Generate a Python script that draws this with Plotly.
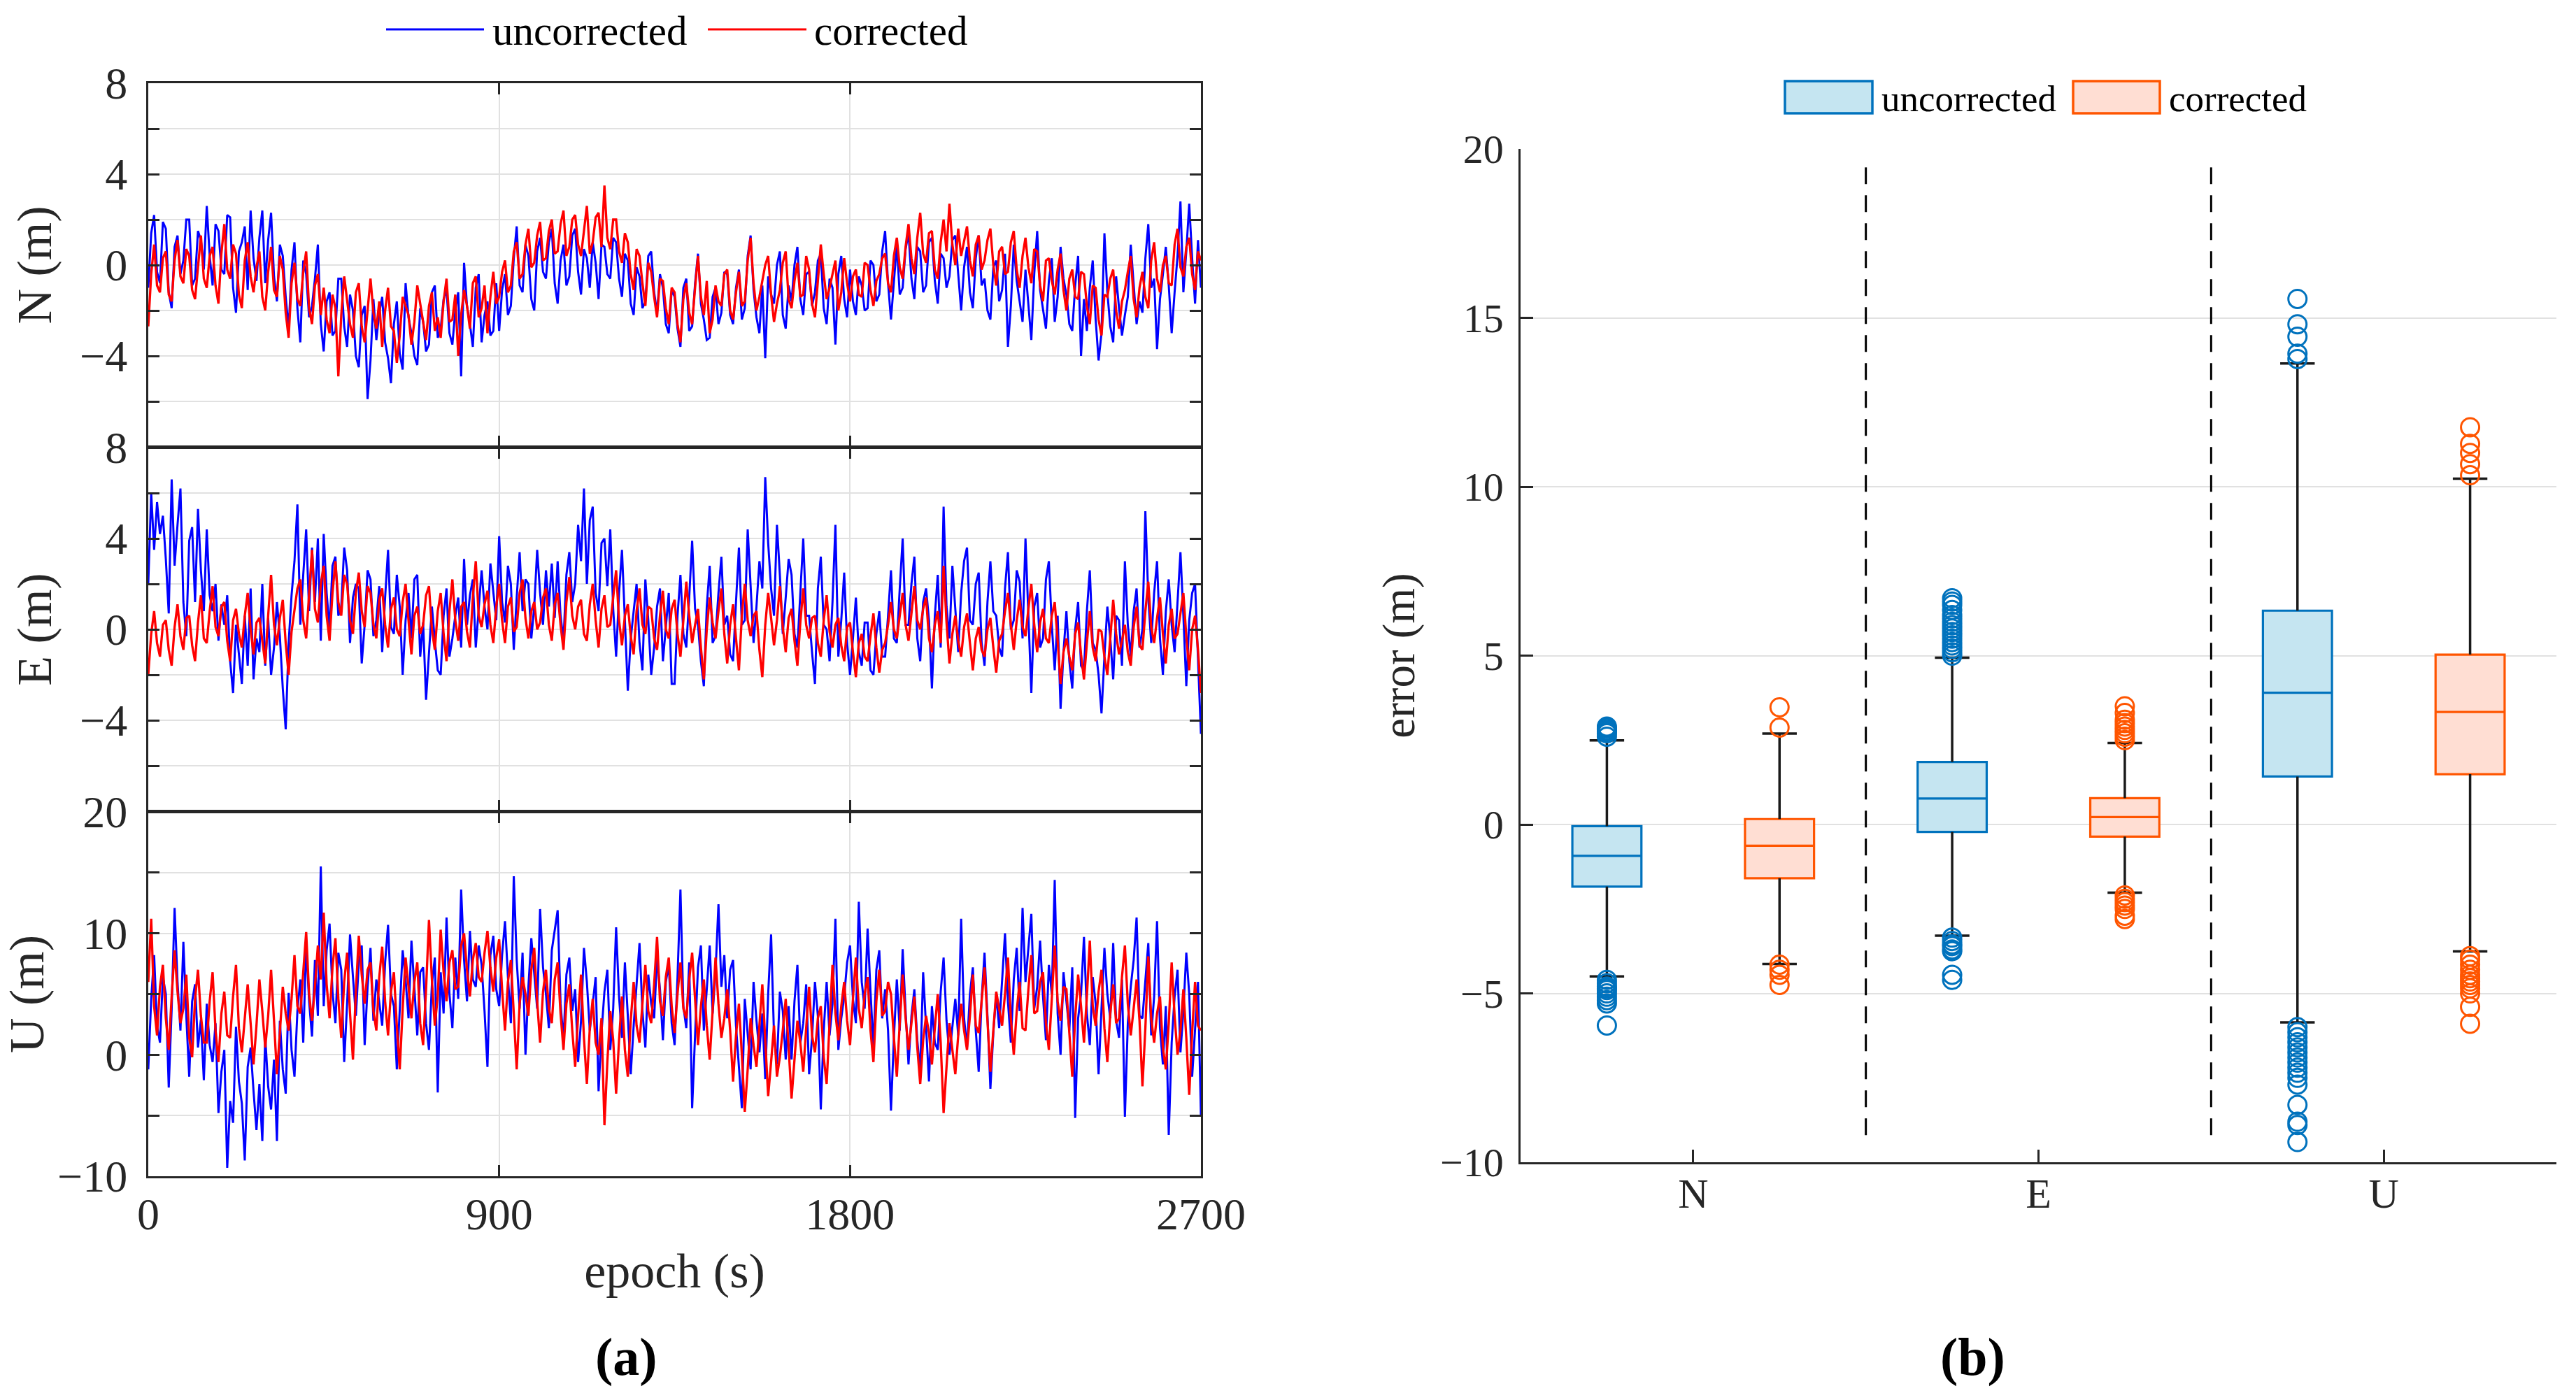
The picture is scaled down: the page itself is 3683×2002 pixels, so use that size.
import plotly.graph_objects as go

W, H = 3683, 2002

# ---------------- data: panel (a) time series, read every 7.5 s over 0-2700 s ----------------
EPOCH_END = 2700

N_uncorrected = [
    -1.0, 1.4, 2.2, -0.3, -0.8, 1.9, 1.6, -1.2, -1.9, 0.8, 1.3, -0.4, 0.2, 2.0, 2.0, -0.9, -0.6, 1.5, 1.1, -0.2,
    2.6, 0.4, -0.9, 1.8, 1.5, -0.2, -0.4, 2.2, 2.1, -1.0, -2.1, 0.6, 1.0, 1.7, -1.1, 2.4, 0.3, -0.7, 1.2, 2.4,
    -0.8, 1.1, 2.3, -0.5, -1.6, 0.9, 0.4, -1.4, -2.8, -0.2, 1.0, -1.9, -3.4, 0.2, -0.4, -2.3, -1.8, -0.6, 0.9, -2.6,
    -3.8, -1.6, -1.2, -3.1, -2.9, -0.6, -0.6, -2.7, -3.6, -1.3, -2.0, -4.0, -4.5, -2.2, -1.8, -5.9, -4.2, -1.5, -3.3, -2.1,
    -1.4, -3.4, -4.1, -5.2, -2.6, -1.6, -3.9, -4.6, -0.8, -2.3, -3.0, -4.0, -4.4, -1.9, -2.5, -3.8, -3.5, -1.2, -0.9, -3.2,
    -2.8, -1.5, -1.1, -3.0, -3.5, -2.0, -1.2, -4.9, 0.1, -1.8, -2.6, -3.6, -1.0, -0.4, -3.4, -2.2, -1.6, -3.1, -2.9, -0.8,
    -2.9, -1.1, -0.4, -2.2, -1.8, 0.3, 1.7, -0.9, -1.2, 0.9, 0.4, -1.5, -2.0, 0.6, 1.2, -0.3, -0.6, 1.0, 1.6, -0.8,
    -1.7, 0.2, 0.9, -0.9, -0.5, 1.3, 1.6, -0.3, -1.3, 0.7, 0.3, -1.0, 1.0, 0.1, -1.5, 0.9, 0.8, -0.4, -0.6, 1.2,
    1.0, -0.6, -1.4, 0.5, 0.2, -1.7, -2.2, -0.1, -0.5, -1.9, -1.6, 0.4, 0.6, -1.2, -2.1, -0.4, -1.0, -2.6, -3.0, -1.1,
    -1.4, -2.8, -3.6, -1.0, -0.6, -2.9, -2.7, -0.8, 0.5, -1.7, -2.4, -3.3, -3.2, -1.4, -1.0, -2.6, -2.1, -0.3, -0.4, -2.2,
    -2.6, -1.0, -0.2, -2.4, -1.9, 0.4, 1.3, -1.1, -2.3, -3.0, -0.9, -4.1, -0.5, -1.3, -1.7, 0.0, 0.6, -2.2, -2.8, -0.9,
    -1.6, 0.0, 0.8, -1.5, -2.2, -0.4, -0.3, -1.8, -1.2, 0.2, 0.5, -1.9, -2.6, -0.6, -1.0, -3.5, -0.4, 0.4, -1.5, -2.3,
    -0.2, -1.6, -2.2, -0.5, -0.9, -2.0, -1.9, 0.2, 0.0, -1.6, -1.3, 0.6, 1.5, -0.8, -2.4, -0.6, 0.9, -1.3, -1.0, 0.7,
    1.4, -0.6, -1.5, 0.8, 0.6, -1.2, -0.9, 1.0, 1.2, -0.7, -1.7, 0.5, 0.3, -1.0, -0.5, 1.1, 1.3, -0.4, -2.0, -0.1,
    0.8, -1.2, -1.9, 0.3, 1.3, -0.9, -0.6, -2.0, -2.4, -0.1, 0.2, -1.6, -1.1, 0.5, -3.6, -1.8, 0.9, -0.7, -1.6, -2.5,
    -0.2, -1.8, -3.3, -0.4, 1.5, -1.1, -1.9, -2.8, -0.7, 0.3, -2.5, -1.4, 0.8, -0.6, -1.3, -2.6, -2.9, -0.9, 0.4, -4.0,
    -1.5, -2.9, -1.0, 0.2, -2.4, -4.2, -3.0, 1.4, -1.2, -2.7, -3.4, -0.5, -1.9, -3.1, -2.2, -1.4, 0.9, -0.8, -2.6, -1.6,
    -2.1, 0.3, 1.8, -1.0, -0.6, -3.7, -1.5, -0.4, 0.8, -0.9, -3.0, -1.2, 0.4, 2.8, -1.2, 0.6, 2.7, 0.3, -1.7, 1.1,
    -1.0,
]
N_corrected = [
    -2.7, -0.4, 0.9, -0.9, -1.2, 0.3, 0.6, -1.3, -1.6, 0.2, 1.1, -0.5, -0.8, 0.7, 0.4, -1.1, -1.5, 0.0, 1.3, -0.6,
    -1.0, 0.4, 0.8, -0.9, -1.7, 0.5, 1.8, -0.2, -0.6, 0.9, 0.5, -1.3, -1.9, 0.2, 1.0, -0.5, -1.2, -0.1, 0.6, -1.4,
    -2.0, -0.3, 0.8, -1.1, -1.4, 0.4, -0.2, -2.1, -3.2, -0.8, 0.1, -1.5, -1.8, -0.3, 0.6, -1.9, -2.6, -0.9, -0.4, -2.2,
    -1.0, -2.4, -3.0, -1.3, -1.9, -4.9, -2.2, -0.5, -1.6, -2.6, -3.2, -1.2, -0.8, -2.7, -3.4, -1.9, -0.6, -2.1, -2.8, -1.6,
    -3.6, -2.0, -1.0, -2.7, -2.9, -4.3, -3.1, -1.4, -1.8, -2.2, -3.5, -2.5, -0.9, -1.7, -2.6, -3.3, -1.8, -1.2, -2.9, -2.3,
    -3.2, -1.6, -0.6, -2.5, -2.4, -1.3, -4.0, -2.2, -1.1, -1.8, -2.8, -0.8, -0.5, -2.3, -1.9, -0.9, -3.0, -1.4, -0.3, -1.7,
    -1.4, -0.3, 0.2, -1.2, -0.9, 0.6, 1.0, -0.6, -0.4, 0.9, 1.6, -0.1, 0.1, 1.3, 1.9, 0.2, 0.3, 1.5, 2.0, 0.5,
    0.6, 1.8, 2.4, 0.4, 0.8, 2.0, 2.2, 0.9, 0.4, 1.6, 2.6, 0.5, 1.0, 2.1, 2.3, 0.8, 3.5, 1.2, 0.7, 2.0,
    2.0, 0.6, 0.1, 1.4, 1.0, -0.4, -1.1, 0.7, 0.4, -0.8, -1.8, 0.1, -0.3, -1.4, -2.3, -0.6, -0.7, -1.9, -2.6, -1.0,
    -1.2, -2.6, -3.4, -1.5, -0.8, -2.1, -2.6, -1.0, 0.4, -1.4, -2.2, -0.7, -3.0, -2.4, -0.9, -1.6, -1.8, -0.4, -0.2, -2.0,
    -2.4, -1.2, -0.3, -1.8, -1.6, 0.2, 1.2, -0.8, -2.0, -1.4, -0.7, 0.0, 0.4, -1.3, -2.5, -1.7, -1.1, 0.1, 0.6, -1.5,
    -1.9, -0.7, 0.1, -1.4, -1.3, 0.4, -0.2, -1.7, -2.3, -0.6, 0.9, -0.4, -1.5, -1.0, -0.4, 0.2, -2.0, -1.2, 0.3, -0.8,
    -1.6, -0.5, -0.2, -1.3, -1.4, 0.1, 0.0, -1.1, -1.8, -0.7, -0.4, 0.3, 0.5, -0.8, -1.2, 0.4, 1.2, -0.1, -0.6, 0.8,
    1.8, 0.3, -0.4, 1.2, 2.3, 0.5, 0.1, 1.4, 1.5, -0.2, -0.6, 1.0, 2.0, 0.6, 2.7, 0.9, 0.0, 1.6, 0.4, 1.1,
    1.7, 0.2, -0.5, 0.9, 1.3, -0.2, 0.2, 1.1, 1.6, 0.0, -0.9, 0.6, 0.8, -0.4, -0.3, 1.0, 1.5, -0.2, -1.0, 0.4,
    1.2, -0.1, -0.8, 0.7, 0.6, -0.9, -1.6, 0.2, 0.3, -0.7, -1.3, -0.2, 0.5, -1.1, -2.0, -0.6, -0.2, -1.4, -1.5, -0.3,
    -0.4, -1.8, -2.6, -0.9, -1.0, -2.4, -3.1, -1.3, -1.4, -0.6, -0.2, -2.0, -2.8, -1.6, -1.1, -0.3, 0.4, -1.5, -2.3, -1.0,
    -0.3, -1.4, -1.9, 0.2, 1.0, -0.6, -1.2, 0.0, 0.4, -0.8, -0.9, 0.9, 1.6, -0.1, -0.5, 0.8, 1.2, -0.4, -1.1, 0.6,
    0.2,
]
E_uncorrected = [
    2.0, 6.0, 3.5, 5.6, 4.2, 5.0, 3.1, 0.7, 6.6, 2.8, 4.6, 6.2, 1.2, -0.3, 3.9, 4.5, 1.2, 5.3, 2.6, 0.8,
    4.4, 1.5, 0.8, 2.0, -0.5, 1.1, 0.2, 1.5, -1.4, -2.8, 0.2, -1.0, -2.4, 0.6, -1.6, 1.8, -2.2, -0.4, -1.0, 2.0,
    -1.6, 0.5, -2.0, -0.8, 1.2, -0.3, -2.6, -4.4, -0.6, 1.5, 3.0, 5.5, 0.2, 2.4, 4.4, 0.8, 3.6, 1.2, 4.0, -0.5,
    4.2, 1.6, 0.0, 2.8, 3.2, 0.6, 1.0, 3.6, 2.6, -0.6, 1.4, 2.0, 1.8, -1.5, 0.2, 2.6, 2.2, -0.3, 0.4, 1.9,
    -1.0, 1.4, 3.5, 0.1, -0.2, 2.4, 1.0, -2.0, 0.4, 1.6, -0.4, 2.2, 2.4, -1.2, 0.3, -3.1, -0.9, 1.0, -0.5, -1.8,
    -2.0, 0.6, 1.8, -1.2, -0.4, 0.6, 1.4, -0.8, 3.1, 0.2, 1.5, 2.2, -0.8, 0.8, 2.6, 1.0, 0.0, 2.9, 1.6, 0.4,
    4.1, 1.2, 0.3, 2.8, 2.0, -0.9, 1.4, 3.4, 0.8, 2.2, 2.0, -0.4, 1.0, 3.5, 1.6, 0.2, 2.6, 1.0, 2.9, 0.5,
    3.0, 0.6, -0.5, 2.4, 3.4, 1.2, 2.0, 4.6, 3.0, 6.2, 2.0, 4.8, 5.4, 1.6, 0.8, 3.8, 4.0, 1.9, 4.4, 0.9,
    -1.2, 1.6, 3.5, 0.2, -2.7, -0.4, 0.8, 2.0, -0.6, -1.8, 2.2, 0.4, -2.0, -0.8, 1.0, 1.8, -1.4, 0.0, 1.6, -2.4,
    -2.4, 0.6, 2.4, -0.2, -0.8, 1.4, 3.9, 0.9, 0.2, -1.4, -2.5, 1.0, 2.8, -0.6, -0.3, 1.6, 3.2, 0.2, 0.6, -1.1,
    -1.4, 1.2, 3.6, 0.2, 0.4, 4.4, 2.0, -0.6, 1.0, 3.0, 1.8, 6.7, 3.8, 1.8, 0.6, 4.6, 2.4, -0.2, 1.4, 3.1,
    2.4, -0.2, -0.8, 1.6, 4.0, 0.6, 0.6, -1.0, -2.4, 1.8, 3.2, 0.2, 0.0, -1.4, 1.2, 4.6, -1.2, 0.4, 2.5, -0.6,
    -2.0, -0.4, 1.4, -1.0, -1.6, 0.3, 0.3, -1.8, -2.0, -0.2, 0.8, -1.2, -1.2, 0.6, 2.6, -0.4, -0.6, 1.8, 4.0, 0.2,
    0.2, 2.0, 3.2, -0.4, -1.4, 1.2, 1.8, 0.4, -2.6, 0.6, 2.4, -0.8, 5.4, 1.0, -0.4, 2.8, 0.9, -1.0, 1.6, 3.0,
    3.6, 0.4, 0.2, 2.0, 2.5, -0.6, -1.6, 1.2, 3.0, 0.8, 0.6, -0.8, -1.2, 1.8, 3.4, 0.0, 0.4, 2.6, 2.1, -0.4,
    4.0, 0.8, -2.8, 1.0, 1.6, -0.8, -0.4, 2.2, 3.0, 0.2, -1.8, 0.6, -3.5, -1.0, 0.8, -1.4, -2.6, 0.0, 1.2, -1.6,
    -1.8, 0.8, 2.6, -0.6, -0.9, -2.0, -3.7, -1.2, 1.0, -0.4, -2.2, 0.6, 0.4, -1.6, 3.0, 0.2, -1.2, 0.8, 1.8, -0.8,
    0.0, 5.2, 1.4, -0.6, 1.6, 3.0, -0.4, -2.0, 0.8, 2.2, 0.2, -1.0, 1.2, 3.4, 0.6, -2.5, 0.4, 1.6, 2.0, -1.4,
    -4.6,
]
E_corrected = [
    -2.0, -0.2, 0.8, -0.6, -1.2, 0.2, 0.4, -0.9, -1.6, 0.1, 1.1, -0.3, -0.9, 0.5, 0.6, -0.7, -1.4, 0.3, 1.5, -0.4,
    -0.6, 0.8, 1.9, 0.1, -0.3, 1.0, 1.2, -0.5, -1.4, 0.4, 0.9, -0.2, -0.8, 0.6, 1.6, 0.0, -1.1, 0.3, 0.5, -0.6,
    -1.5, 0.6, 2.4, 0.2, -0.7, 0.5, 1.3, -0.6, -2.0, -0.1, 0.8, 1.8, 2.2, 0.4, -0.4, 1.4, 3.5, 0.9, 0.3, 2.0,
    2.8, 0.6, -0.5, 1.6, 3.0, 1.2, 0.6, 2.4, 2.0, 0.4, -0.2, 1.6, 2.5, 0.8, 0.1, 1.9, 1.6, 0.2, -0.4, 1.3,
    1.8, 0.2, -0.8, 0.9, 1.4, 0.0, -0.3, 1.2, 2.0, 0.4, -1.1, 0.6, 1.0, -0.2, 0.2, 1.5, 1.9, 0.0, -0.9, 0.8,
    1.6, -0.2, -1.4, 0.8, 2.2, 0.4, -0.5, 1.0, 1.2, -0.1, -0.8, 1.4, 3.0, 0.6, 0.1, 1.1, 1.7, 0.2, -0.6, 1.0,
    2.0, 0.4, -0.6, 1.0, 1.4, -0.1, 0.1, 1.6, 2.2, 0.5, -0.4, 0.8, 1.2, 0.0, 0.3, 1.4, 1.8, 0.2, -0.5, 1.1,
    1.6, 0.2, -0.9, 1.2, 2.3, 0.6, 0.0, 1.0, 1.3, -0.2, -0.5, 1.1, 2.0, 0.4, -0.8, 0.9, 1.5, 0.1, 0.2, 1.4,
    2.6, 0.4, -0.7, 0.6, 1.1, -0.3, -1.1, 0.8, 1.8, 0.2, -0.2, 1.0, 0.9, -0.4, -0.9, 0.6, 1.7, 0.0, -0.4, 0.9,
    1.3, -0.2, -1.2, 0.4, 2.1, 0.6, -0.6, 0.2, 0.9, -0.8, -2.2, 0.0, 1.4, 0.3, -0.4, 0.8, 1.8, -0.2, -1.5, 0.2,
    1.1, -0.4, -1.8, 0.6, 2.0, 0.4, -0.3, 0.6, 0.8, -0.9, -2.1, 0.2, 1.6, 0.5, -0.7, 0.4, 1.9, 0.1, -1.0, 0.5,
    0.9, -0.5, -1.6, 0.3, 1.8, 0.2, -0.4, 0.5, 0.6, -0.6, -1.2, 0.4, 1.5, -0.1, -0.8, 0.2, 0.5, -0.7, -1.4, 0.1,
    0.3, -1.0, -2.1, -0.6, -0.2, -1.2, -1.4, -0.3, 0.7, -0.8, -1.9, -0.9, -0.6, 0.2, 1.2, 0.0, -0.4, 0.6, 1.6, 0.2,
    -0.5, 0.7, 1.9, 0.4, 0.0, 0.9, 1.4, -0.4, -1.0, 0.2, 0.8, -0.6, 2.8, 0.3, -1.5, -0.2, 0.6, -0.5, -1.2, 0.1,
    0.7, -0.6, -1.8, -0.4, 0.1, -0.9, -1.2, 0.0, 0.5, -0.8, -1.9, -0.5, -0.2, 0.8, 1.6, 0.2, -0.9, 0.4, 1.3, 0.1,
    -0.3, 0.9, 2.0, 0.2, -1.0, 0.3, 0.9, -0.4, -0.6, 0.6, 1.2, -0.5, -2.4, -1.0, -0.4, -1.2, -1.8, -0.2, 0.3, -1.1,
    -2.2, -0.6, 0.8, -0.8, -1.4, 0.0, -0.1, -1.2, -2.0, -0.4, 1.3, -0.2, -1.1, -0.5, 0.2, -1.0, -1.6, 0.1, 1.0, -0.7,
    -0.9, 0.8, 2.1, 0.1, -0.6, 0.5, 1.4, -0.2, -1.5, 0.2, 0.9, -0.4, -0.2, 0.7, 1.6, -0.3, -1.8, 0.0, 0.6, -0.9,
    -2.8,
]
U_uncorrected = [
    -1.2, 4.6, 8.2, 2.4, 1.0, 6.4, 5.0, -2.7, 3.8, 12.1, 6.0, 2.0, 9.3, 3.2, -1.8, 4.4, 5.8, 0.6, 2.9, -2.1,
    4.2, 0.8, -0.6, 2.6, -4.8, -1.4, 0.4, -9.3, -3.8, -5.6, 2.3, -2.2, -4.0, -8.7, -1.0, 0.6, -3.0, -6.2, -2.4, -7.1,
    1.5, -2.6, -4.5, -0.4, -7.1, 2.8, -1.2, -3.2, 5.1, 0.4, -1.8, 3.6, 6.2, 1.0, 9.1, 4.4, 1.5, 7.8, 3.2, 15.5,
    4.0, 8.6, 10.8, 5.2, 2.6, 8.4, 7.0, -0.6, 4.2, 9.9, 6.4, 3.2, 7.6, 9.0, 0.8, 5.6, 8.8, 2.8, 6.2, 4.4,
    2.4, 7.6, 10.7, 5.0, 4.0, -1.2, 3.8, 8.6, 6.2, 3.0, 9.4, 5.4, 1.6, 6.8, 7.2, 2.6, 0.4, 5.8, 8.0, -3.1,
    6.8, 3.4, 11.3, 5.0, 2.2, 8.0, 4.6, 13.6, 7.8, 4.4, 10.2, 6.2, 5.6, 9.0, 7.4, 3.6, -1.0, 8.2, 9.8, 5.4,
    4.0, 8.2, 11.0, 6.4, 2.6, 14.7, 7.8, 3.8, 8.4, 0.0, 5.6, 9.6, 6.8, 3.8, 12.0, 7.2, 5.0, 2.2, 8.6, 10.4,
    11.9, 4.2, 1.2, 6.6, 8.0, 3.6, 5.4, -0.6, 2.8, 8.8, 6.0, 2.0, 4.4, 6.4, -3.0, 1.8, 5.2, 7.0, 0.4, 3.8,
    10.5, 4.8, 1.4, 7.6, 3.2, -1.6, 2.4, 5.8, 9.2, 3.6, 0.6, 6.6, 4.2, 3.0, 8.0, 5.4, 1.2, 6.0, 7.4, 2.6,
    0.8, 6.4, 13.6, 4.0, 2.2, 7.6, -4.4, 1.6, 7.2, 9.0, 2.0, 5.4, 9.0, 3.4, 6.8, 12.4, 5.6, 8.2, 3.0, 7.0,
    7.8, 2.4, -1.0, -4.4, 4.6, 1.8, -1.2, 6.0, 2.8, 0.2, 3.4, -2.0, 5.0, 9.9, 1.6, -0.8, 5.2, 3.6, -0.4, 4.0,
    -0.4, 4.4, 7.4, 1.0, 2.6, 5.8, -1.6, 1.4, 6.0, 3.2, -4.5, 2.0, 6.0, 1.6, 4.2, 11.2, 0.4, 3.0, 4.8, 7.6,
    9.0, 4.6, 2.6, 12.6, 6.0, 3.8, 10.4, 5.2, 0.6, 7.0, 8.6, 3.0, 5.4, 2.0, -4.6, 1.4, 6.2, 2.0, 8.7, 3.6,
    -0.8, 3.2, 5.4, 1.2, -1.4, 6.8, 2.6, -2.2, 4.0, 1.0, 0.4, 5.2, 8.0, 2.8, 0.0, 2.4, 4.6, 1.6, 11.2, 3.0,
    0.6, 5.0, 7.2, 2.0, -1.4, 4.6, 8.4, 3.2, -2.8, 1.8, 5.0, 2.2, 6.4, 10.0, 4.4, 1.0, 6.2, 8.8, 3.6, 12.1,
    6.0, 9.0, 11.6, 3.8, 5.6, 9.4, 4.8, 1.2, 7.4, 5.0, 14.4, 3.4, 0.0, 6.8, 4.2, 2.0, 7.2, -5.2, 3.0, 5.0,
    9.7, 3.4, 0.8, 6.4, 4.2, -1.6, 3.8, 8.8, 5.0, 3.0, 9.2, 2.8, 1.4, 6.2, -5.1, 2.6, 5.6, 7.8, 11.3, 3.2,
    3.0, 6.2, 9.2, 1.6, 4.8, 11.0, 2.2, -0.8, 4.0, -6.6, 1.0, 4.8, 7.0, 0.2, 3.6, 8.4, 5.0, -1.8, 2.4, 6.0,
    -5.0,
]
U_corrected = [
    6.0, 11.2, 4.0, 1.6, 5.6, 7.4, 3.0, 0.4, 4.8, 8.6, 5.2, 2.6, 3.8, 6.6, 1.4, -0.2, 4.6, 7.0, 3.2, 1.0,
    1.0, 4.4, 6.8, 2.0, -0.6, 3.4, 5.2, 1.6, 1.4, 4.8, 7.4, 2.2, 0.2, 3.0, 5.8, 2.6, -0.8, 2.4, 6.2, 3.6,
    0.6, 3.2, 7.0, 2.8, -1.6, 1.8, 5.6, 3.4, 2.0, 4.6, 8.2, 4.0, 3.4, 6.8, 10.1, 5.0, 2.8, 5.6, 9.0, 6.2,
    11.7, 5.8, 3.0, 7.2, 9.6, 4.6, 1.4, 6.0, 8.4, 3.4, -0.4, 5.2, 9.8, 6.6, 4.2, 7.0, 7.6, 3.6, 2.0, 6.4,
    8.9, 4.4, 1.6, 5.2, 6.8, 2.4, -1.2, 3.8, 8.0, 5.6, 3.0, 6.0, 7.6, 2.6, 0.8, 5.4, 11.1, 6.2, 2.4, 4.8,
    10.3, 6.8, 4.4, 7.6, 8.6, 5.4, 5.6, 9.0, 10.0, 7.0, 4.8, 7.8, 9.2, 6.4, 6.0, 8.4, 10.2, 7.2, 5.2, 8.0,
    9.5, 5.4, 2.0, 6.0, 7.8, 3.4, -1.2, 4.2, 6.4, 5.0, 3.2, 7.0, 8.8, 4.4, 1.0, 5.2, 7.0, 3.8, 2.6, 6.2,
    7.6, 3.4, 0.4, 4.2, 5.8, 2.0, -1.0, 3.2, 6.6, 1.4, -2.4, 2.2, 4.6, 1.0, 0.0, 3.0, -5.8, -0.6, 3.6, 1.2,
    -3.2, 1.2, 4.8, 0.4, -1.8, 2.8, 6.0, 2.4, 1.0, 4.2, 7.4, 3.6, 2.6, 5.8, 9.7, 4.4, 3.2, 6.4, 8.0, 4.0,
    1.8, 5.0, 7.6, 3.8, 3.0, 6.2, 8.4, 4.6, 0.8, 4.0, 6.2, 2.4, -0.4, 3.6, 8.0, 4.2, 1.4, 3.0, 5.4, 2.0,
    -2.2, 1.6, 4.2, 0.0, -4.7, -1.2, 3.0, 0.8, -1.0, 2.4, 5.8, 1.2, -3.4, -0.6, 2.4, -1.8, -0.2, 2.0, 4.6, 0.6,
    -3.6, -0.4, 2.8, 1.0, -1.4, 2.2, 5.6, 1.6, 0.2, 3.0, 4.0, -0.2, -2.4, 2.6, 7.4, 3.4, 1.2, 4.0, 6.0, 2.8,
    0.8, 4.6, 8.0, 3.8, 2.2, 5.0, 6.4, 2.0, -0.6, 4.4, 7.0, 3.2, 3.6, 6.0, 5.0, 1.4, -1.8, 2.6, 6.6, 3.0,
    0.4, 2.6, 4.8, 0.6, -2.4, 1.2, 3.2, 1.8, -0.8, 2.2, 5.0, 1.0, -4.8, -1.0, 2.6, 0.4, -1.6, 1.6, 4.2, 2.0,
    0.4, 3.2, 6.6, 2.4, 1.8, 4.4, 7.2, 2.8, -1.4, 2.0, 5.2, 3.8, 2.4, 5.0, 8.0, 3.0, 0.0, 3.6, 6.0, 2.2,
    2.0, 5.4, 8.2, 3.4, 3.6, 6.0, 6.8, 2.6, 0.4, 4.6, 9.0, 4.4, 2.8, 5.6, 5.4, 1.8, -1.8, 3.0, 6.6, 4.0,
    1.0, 4.8, 9.4, 4.0, 2.4, 5.2, 7.0, 2.2, -0.6, 3.4, 5.8, 2.6, 3.0, 6.4, 9.0, 4.2, 1.6, 3.8, 6.2, 2.8,
    -2.6, 2.2, 8.1, 3.0, 1.0, 3.4, 4.8, 0.6, -1.2, 2.6, 7.6, 3.2, 0.0, 2.0, 5.4, 1.4, -3.3, 1.8, 6.0, 2.4,
    2.0,
]

# ---------------- data: panel (b) box statistics ----------------
components = ["N", "E", "U"]
comp_pos = [1, 2, 3]

unc_q1 = [-1.84, -0.22, 1.42]
unc_median = [-0.93, 0.77, 3.90]
unc_q3 = [-0.05, 1.85, 6.33]
unc_lowfence = [-4.50, -3.29, -5.86]
unc_upfence = [2.49, 4.94, 13.65]

cor_q1 = [-1.59, -0.36, 1.49]
cor_median = [-0.63, 0.22, 3.33]
cor_q3 = [0.16, 0.78, 5.03]
cor_lowfence = [-4.13, -2.02, -3.76]
cor_upfence = [2.69, 2.41, 10.24]

unc_outliers = [
    [2.6, 2.7, 2.75, 2.8, 2.85, 2.9, -4.6, -4.7, -4.8, -4.85, -4.9, -5.0, -5.1, -5.2, -5.3, -5.95],
    [5.0, 5.1, 5.2, 5.3, 5.4, 5.5, 5.6, 5.7, 5.8, 5.9, 6.0, 6.1, 6.2, 6.35, 6.5, 6.6, 6.7,
     -3.35, -3.45, -3.55, -3.6, -3.7, -3.75, -4.45, -4.6],
    [13.78, 13.94, 14.44, 14.81, 15.56, -6.0, -6.15, -6.3, -6.45, -6.6, -6.75, -6.9, -7.05,
     -7.2, -7.35, -7.5, -7.7, -8.3, -8.8, -8.9, -9.4],
]
cor_outliers = [
    [2.87, 3.47, -4.15, -4.3, -4.45, -4.75],
    [2.5, 2.6, 2.7, 2.8, 2.9, 3.0, 3.1, 3.3, 3.5, -2.1, -2.2, -2.3, -2.4, -2.5, -2.7, -2.8],
    [10.34, 10.67, 11.0, 11.27, 11.76, -3.9, -4.0, -4.15, -4.3, -4.45, -4.55, -4.65, -4.75,
     -4.85, -5.0, -5.4, -5.9],
]

# ---------------- style ----------------
FONT = "Liberation Serif"
TXT = "#262626"
GRID = "#e1e1e1"
BLUE_LINE = "#0000ff"
RED_LINE = "#ff0000"
UNC_EDGE = "#0072BD"
UNC_FILL = "#C5E5F1"
COR_EDGE = "#FF5500"
COR_FILL = "#FFDED3"
OFFSET = 0.25
BOXW = 0.2
CAPW = 0.05


def px(x):
    return x / W


def py(y):
    return 1 - y / H


def epochs_for(series):
    n = len(series) - 1
    return [EPOCH_END * i / n for i in range(n + 1)]


fig = go.Figure()

# panel (a) traces
for ax, unc, cor in [("", N_uncorrected, N_corrected),
                     ("2", E_uncorrected, E_corrected),
                     ("3", U_uncorrected, U_corrected)]:
    fig.add_trace(go.Scatter(x=epochs_for(unc), y=unc, mode="lines",
                             line=dict(color=BLUE_LINE, width=3.0),
                             xaxis="x" + ax, yaxis="y" + ax, showlegend=False, hoverinfo="skip"))
    fig.add_trace(go.Scatter(x=epochs_for(cor), y=cor, mode="lines",
                             line=dict(color=RED_LINE, width=3.3),
                             xaxis="x" + ax, yaxis="y" + ax, showlegend=False, hoverinfo="skip"))

# panel (b) separators between components
sep_x = [(comp_pos[i] + comp_pos[i + 1]) / 2 for i in range(len(comp_pos) - 1)]
for sx in sep_x:
    fig.add_trace(go.Scatter(x=[sx, sx], y=[-9.2, 19.5], mode="lines",
                             line=dict(color="black", width=3, dash="24px,16px"),
                             xaxis="x4", yaxis="y4", showlegend=False, hoverinfo="skip"))

# boxes, whiskers and outliers
for sign, q1, med, q3, lf, uf, edge, fill, outl in [
        (-1, unc_q1, unc_median, unc_q3, unc_lowfence, unc_upfence, UNC_EDGE, UNC_FILL, unc_outliers),
        (1, cor_q1, cor_median, cor_q3, cor_lowfence, cor_upfence, COR_EDGE, COR_FILL, cor_outliers)]:
    pos = [p + sign * OFFSET for p in comp_pos]
    wx, wy = [], []
    for p, a, b, c, d in zip(pos, lf, q1, q3, uf):
        wx += [p, p, None, p, p, None, p - CAPW, p + CAPW, None, p - CAPW, p + CAPW, None]
        wy += [d, c, None, b, a, None, d, d, None, a, a, None]
    fig.add_trace(go.Scatter(x=wx, y=wy, mode="lines", line=dict(color="#1a1a1a", width=3.5),
                             xaxis="x4", yaxis="y4", showlegend=False, hoverinfo="skip"))
    fig.add_trace(go.Box(x=pos, q1=q1, median=med, q3=q3, lowerfence=q1, upperfence=q3,
                         orientation="v", width=BOXW, whiskerwidth=0, boxpoints=False,
                         fillcolor=fill, line=dict(color=edge, width=3.2),
                         xaxis="x4", yaxis="y4", showlegend=False, hoverinfo="skip"))
    ox, oy = [], []
    for p, vals in zip(pos, outl):
        ox += [p] * len(vals)
        oy += vals
    fig.add_trace(go.Scatter(x=ox, y=oy, mode="markers",
                             marker=dict(symbol="circle-open", size=26, color=edge, line=dict(width=3)),
                             xaxis="x4", yaxis="y4", showlegend=False, hoverinfo="skip"))

# ---------------- axes ----------------
tickfont = dict(family=FONT, size=64, color=TXT)
titlefont = dict(family=FONT, size=70, color=TXT)

xl = [px(212), px(1717)]
xbase = dict(range=[0, EPOCH_END], tickvals=[0, 900, 1800, 2700], showgrid=True, gridcolor=GRID,
             gridwidth=2, ticks="inside", ticklen=16, tickwidth=3, tickcolor=TXT, showline=True,
             linecolor=TXT, linewidth=3, mirror="ticks", zeroline=False, tickfont=tickfont,
             automargin=False)
ybase = dict(showgrid=True, gridcolor=GRID, gridwidth=2, ticks="inside", ticklen=16, tickwidth=3,
             tickcolor=TXT, showline=True, linecolor=TXT, linewidth=3, mirror="ticks",
             zeroline=False, tickfont=tickfont, ticklabelstandoff=14, automargin=False)

ne_vals = [-8, -6, -4, -2, 0, 2, 4, 6, 8]
ne_text = ["", "", "−4", "", "0", "", "4", "", "8"]
u_vals = [-10, -5, 0, 5, 10, 15, 20]
u_text = ["−10", "", "0", "", "10", "", "20"]

layout = dict(
    template="none",
    width=W, height=H, margin=dict(l=0, r=0, t=0, b=0, pad=0, autoexpand=False),
    paper_bgcolor="white", plot_bgcolor="white", showlegend=False,
    font=dict(family=FONT, color=TXT),
    xaxis=dict(xbase, domain=xl, anchor="y", showticklabels=False),
    xaxis2=dict(xbase, domain=xl, anchor="y2", showticklabels=False, matches="x"),
    xaxis3=dict(xbase, domain=xl, anchor="y3", showticklabels=True, ticklabelstandoff=-4,
                title=dict(text="epoch (s)", font=titlefont, standoff=22)),
    yaxis=dict(ybase, domain=[py(639), py(119)], anchor="x", range=[-8, 8], tickvals=ne_vals,
               ticktext=ne_text, title=dict(text="N (m)", font=titlefont, standoff=18)),
    yaxis2=dict(ybase, domain=[py(1160), py(640)], anchor="x2", range=[-8, 8], tickvals=ne_vals,
                ticktext=ne_text, title=dict(text="E (m)", font=titlefont, standoff=18)),
    yaxis3=dict(ybase, domain=[py(1682), py(1161)], anchor="x3", range=[-10, 20], tickvals=u_vals,
                ticktext=u_text, title=dict(text="U (m)", font=titlefont, standoff=18)),
    xaxis4=dict(domain=[px(2174), px(3655)], anchor="y4", range=[0.5, 3.5], tickvals=comp_pos,
                ticktext=components, showgrid=False, zeroline=False, showline=True,
                linecolor=TXT, linewidth=2.5, ticks="inside", ticklen=18, tickwidth=2.5,
                tickcolor=TXT, ticklabelstandoff=-10, automargin=False,
                tickfont=dict(family=FONT, size=60, color=TXT)),
    yaxis4=dict(domain=[py(1662), py(213)], anchor="x4", range=[-10, 20],
                tickvals=[-10, -5, 0, 5, 10, 15, 20],
                ticktext=["−10", "−5", "0", "5", "10", "15", "20"],
                showgrid=True, gridcolor=GRID, gridwidth=2, zeroline=False, showline=True,
                linecolor=TXT, linewidth=2.5, ticks="inside", ticklen=18, tickwidth=2.5,
                tickcolor=TXT, ticklabelstandoff=10, automargin=False,
                tickfont=dict(family=FONT, size=58, color=TXT),
                title=dict(text="error (m)", font=dict(family=FONT, size=65, color=TXT), standoff=16)),
)
fig.update_layout(**layout)

# ---------------- legends (drawn manually) ----------------
shapes = []
annotations = []
for x0, x1, col, label, tx in [(552, 692, BLUE_LINE, "uncorrected", 702),
                                (1012, 1153, RED_LINE, "corrected", 1162)]:
    shapes.append(dict(type="line", xref="paper", yref="paper", x0=px(x0), x1=px(x1),
                       y0=py(42), y1=py(42), line=dict(color=col, width=3)))
    annotations.append(dict(text=label, xref="paper", yref="paper", x=px(tx), y=py(44),
                            xanchor="left", yanchor="middle", showarrow=False,
                            font=dict(family=FONT, size=59, color="black")))
for x0, x1, edge, fill, label, tx in [(2552, 2677, UNC_EDGE, UNC_FILL, "uncorrected", 2688),
                                      (2964, 3088, COR_EDGE, COR_FILL, "corrected", 3099)]:
    shapes.append(dict(type="rect", xref="paper", yref="paper", x0=px(x0), x1=px(x1),
                       y0=py(162), y1=py(116), fillcolor=fill, line=dict(color=edge, width=3.5)))
    annotations.append(dict(text=label, xref="paper", yref="paper", x=px(tx), y=py(141),
                            xanchor="left", yanchor="middle", showarrow=False,
                            font=dict(family=FONT, size=53, color="black")))
annotations.append(dict(text="<b>(a)</b>", xref="paper", yref="paper", x=px(895), y=py(1940),
                        xanchor="center", yanchor="middle", showarrow=False,
                        font=dict(family=FONT, size=76, color="black")))
annotations.append(dict(text="<b>(b)</b>", xref="paper", yref="paper", x=px(2820), y=py(1940),
                        xanchor="center", yanchor="middle", showarrow=False,
                        font=dict(family=FONT, size=76, color="black")))
fig.update_layout(shapes=shapes, annotations=annotations)

fig.write_html("out.html", config={"displayModeBar": False},
               post_script="document.body.style.margin='0px';")
